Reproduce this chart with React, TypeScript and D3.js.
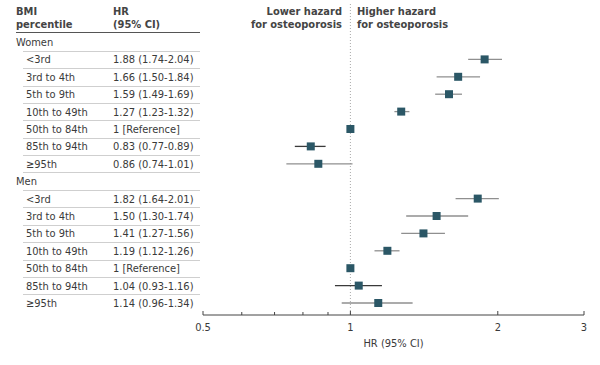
import React from "react"
import * as d3 from "d3"

// BMI percentile groups
const groups = ["<3rd", "3rd to 4th", "5th to 9th", "10th to 49th", "50th to 84th", "85th to 94th", "≥95th"]

// hazard ratios, women
const womenHR = [1.88, 1.66, 1.59, 1.27, 1, 0.83, 0.86]
const womenLo = [1.74, 1.5, 1.49, 1.23, 1, 0.77, 0.74]
const womenHi = [2.04, 1.84, 1.69, 1.32, 1, 0.89, 1.01]

// hazard ratios, men
const menHR = [1.82, 1.5, 1.41, 1.19, 1, 1.04, 1.14]
const menLo = [1.64, 1.3, 1.27, 1.12, 1, 0.93, 0.96]
const menHi = [2.01, 1.74, 1.56, 1.26, 1, 1.16, 1.34]

const majorTicks = [0.5, 1, 2, 3]
const minorTicks = [0.6, 0.7, 0.8, 0.9]

const font = "'Liberation Sans Narrow', 'DejaVu Sans Condensed', Arial, sans-serif"

function fmt(v: number, lo: number, hi: number) {
  if (v === 1 && lo === 1 && hi === 1) return "1 [Reference]"
  return `${v.toFixed(2)} (${lo.toFixed(2)}-${hi.toFixed(2)})`
}

export default function App() {
  const width = 600, height = 365
  const axisY = 315

  const x = d3.scaleLog().domain([0.5, 3]).range([203, 584])

  // build the row table
  const rows: any[] = []
  rows.push({ kind: "head", label: "Women" })
  groups.forEach((g, i) => rows.push({ kind: "row", label: g, hr: womenHR[i], lo: womenLo[i], hi: womenHi[i] }))
  rows.push({ kind: "head", label: "Men" })
  groups.forEach((g, i) => rows.push({ kind: "row", label: g, hr: menHR[i], lo: menLo[i], hi: menHi[i] }))

  const y = d3.scalePoint<number>().domain(d3.range(rows.length)).range([42, 303])
  const step = y.step()

  const textCol = "#3a3a3a"
  const marker = "#2b5766"

  return (
    <svg width={width} height={height} style={{ position: "absolute", left: 0, top: 0, background: "#fff" }} fontFamily={font}>
      {/* column headers */}
      <g fontWeight="bold" fontSize={11} fill="#444">
        <text x={16} y={15}>BMI</text>
        <text x={16} y={28}>percentile</text>
        <text x={113} y={15}>HR</text>
        <text x={113} y={28}>(95% CI)</text>
        <text x={342} y={15} textAnchor="end">Lower hazard</text>
        <text x={342} y={28} textAnchor="end">for osteoporosis</text>
        <text x={357} y={15}>Higher hazard</text>
        <text x={357} y={28}>for osteoporosis</text>
      </g>
      <line x1={16} x2={200} y1={32.5} y2={32.5} stroke="#555" strokeWidth={1} />

      {/* separators */}
      {rows.map((r, i) => {
        if (i === rows.length - 1) return null
        const yy = Math.round(y(i)! + step / 2) + 0.5
        return <line key={"s" + i} x1={23} x2={200} y1={yy} y2={yy} stroke="#cfcfcf" strokeWidth={1} />
      })}

      {/* table text */}
      <g fontSize={11} fill={textCol}>
        {rows.map((r, i) => (
          <g key={"t" + i}>
            <text x={r.kind === "head" ? 16 : 26} y={y(i)! + 4}>{r.label}</text>
            {r.kind === "row" && <text x={113} y={y(i)! + 4}>{fmt(r.hr, r.lo, r.hi)}</text>}
          </g>
        ))}
      </g>

      {/* reference line */}
      <line x1={x(1)} x2={x(1)} y1={4} y2={axisY} stroke="#aaa" strokeWidth={1} strokeDasharray="1,2" />

      {/* CIs and points */}
      {rows.map((r, i) => {
        if (r.kind !== "row") return null
        const cy = y(i)!
        const dark = r.label === "85th to 94th"
        return (
          <g key={"p" + i}>
            {r.lo !== r.hi && (
              <line x1={x(r.lo)} x2={x(r.hi)} y1={cy} y2={cy} stroke={dark ? "#3a3a3a" : "#8f8f8f"} strokeWidth={1.3} />
            )}
            <rect x={x(r.hr) - 4} y={cy - 4} width={8} height={8} fill={marker} />
          </g>
        )
      })}

      {/* axis */}
      <line x1={x(0.5)} x2={x(3)} y1={axisY} y2={axisY} stroke="#444" strokeWidth={1} />
      {majorTicks.map(t => (
        <g key={"M" + t}>
          <line x1={x(t)} x2={x(t)} y1={axisY - 4} y2={axisY} stroke="#444" />
          <text x={x(t)} y={axisY + 16} textAnchor="middle" fontSize={11} fill={textCol}>{t}</text>
        </g>
      ))}
      {minorTicks.map(t => (
        <line key={"m" + t} x1={x(t)} x2={x(t)} y1={axisY - 3} y2={axisY} stroke="#444" />
      ))}
      <text x={(x(0.5) + x(3)) / 2} y={axisY + 32} textAnchor="middle" fontSize={11} fill={textCol}>HR (95% CI)</text>
    </svg>
  )
}
